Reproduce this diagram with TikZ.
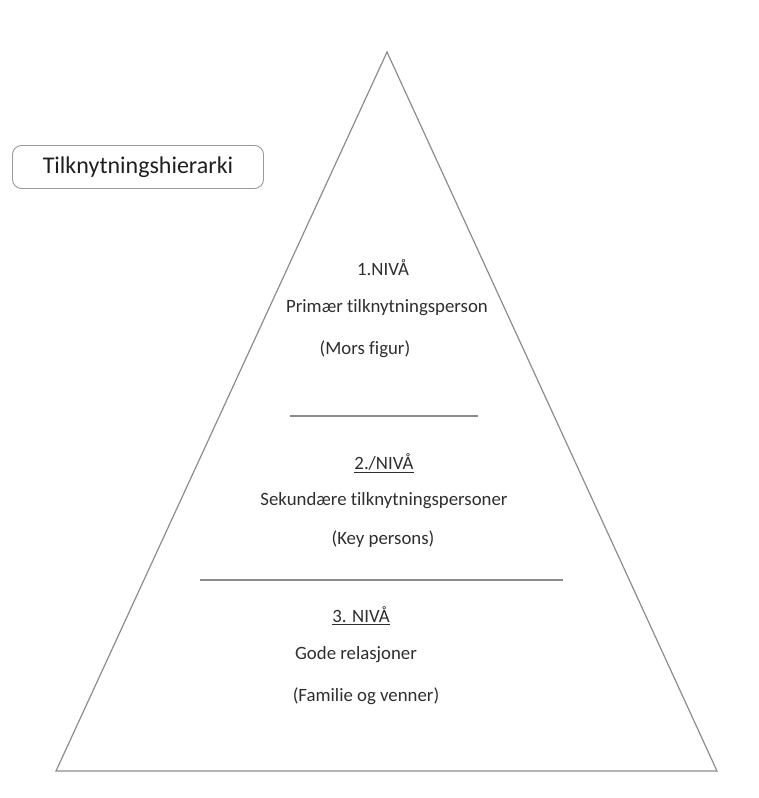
\documentclass[tikz,border=0pt]{standalone}
\usepackage{fontspec}
\setmainfont{Carlito}[Ligatures=CommonOff]
\begin{document}
\begin{tikzpicture}[x=1pt,y=-1pt,
  edge/.style={draw=black!45,line width=1.2pt},
  sep/.style={draw=black!45,line width=1.1pt},
  lbl/.style={font=\fontsize{18.8}{22}\selectfont,text=black!82,inner sep=0pt,anchor=center},
  titlebox/.style={draw=black!40,line width=0.9pt,rounded corners=9pt,minimum width=251pt,minimum height=43pt,font=\fontsize{24}{28}\selectfont,text=black!88}]
\useasboundingbox (0,0) rectangle (759,798);
% pyramid outline
\coordinate (apex) at (387,52);
\coordinate (bl) at (56,771);
\coordinate (br) at (717,771);
\draw[edge,line join=miter] (apex) -- (br) -- (bl) -- cycle;
% level separators
\coordinate (s1a) at (290,416);
\coordinate (s1b) at (478,416);
\coordinate (s2a) at (200,580);
\coordinate (s2b) at (563,580);
\draw[sep] (s1a) -- (s1b);
\draw[sep] (s2a) -- (s2b);
% title
\node[titlebox] (title) at (138,167) {Tilknytningshierarki};
% level 1
\node[lbl] (l1) at (383,268) {1.NIVÅ};
\node[lbl] (l1a) at (387,308) {Primær tilknytningsperson};
\node[lbl] (l1b) at (365,349) {(Mors figur)};
% level 2
\node[lbl] (l2) at (384,463) {\underline{2./NIVÅ}};
\node[lbl] (l2a) at (384,501) {Sekundære tilknytningspersoner};
\node[lbl] (l2b) at (383,539) {(Key persons)};
% level 3
\node[lbl] (l3) at (361,616) {\underline{3. NIVÅ}};
\node[lbl] (l3a) at (356,655) {Gode relasjoner};
\node[lbl] (l3b) at (366,696) {(Familie og venner)};
\end{tikzpicture}
\end{document}
